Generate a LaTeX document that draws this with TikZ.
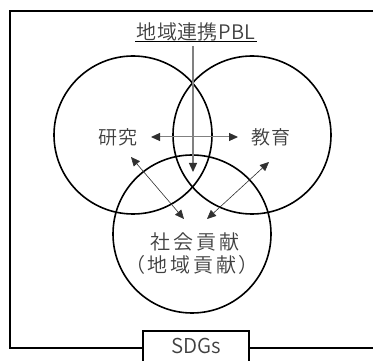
\documentclass[tikz,border=0pt]{standalone}
\usepackage{fontspec}
\setmainfont{Noto Sans CJK JP}[UprightFont=* DemiLight]
\usetikzlibrary{arrows.meta}
\definecolor{txt}{HTML}{404040}
\definecolor{shaft}{HTML}{808080}
\definecolor{head}{HTML}{303030}
\tikzset{
  ring/.style={circle, draw=black, line width=1.6pt, minimum size=158pt, inner sep=0pt},
  lbl/.style={text=txt, font=\fontsize{19}{22}\selectfont\addfontfeature{LetterSpace=5}, inner sep=1pt},
  biglbl/.style={text=txt, font=\fontsize{20}{22}\selectfont\addfontfeature{LetterSpace=14}, inner sep=1pt},
  tip/.style={-{Triangle[length=9pt,width=8pt,color=head]}},
  bitip/.style={{Triangle[length=9pt,width=8pt,color=head]}-{Triangle[length=9pt,width=8pt,color=head]}},
  frame/.style={draw=black, line width=1.6pt}
}
\begin{document}
\begin{tikzpicture}[x=1pt,y=-1pt]
\useasboundingbox (0,0) rectangle (373,361);
\draw[frame] (10,11) rectangle (380,348);
\node[frame, fill=white, minimum width=106pt, minimum height=40pt, anchor=north west, inner sep=0pt] (sdgbox) at (142,330) {};
\node[lbl, font=\fontsize{20.5}{22}\selectfont] (sdg) at (196,346) {SDGs};
\node[lbl, font=\fontsize{20}{22}\selectfont\addfontfeature{LetterSpace=2}] (pbl) at (196,32) {地域連携PBL};
\draw[black, line width=1.4pt] (pbl.south west) ++(0,-1) coordinate (ul1) -- (pbl.south east |- ul1) coordinate (ul2);
\node[ring] (L) at (133,135) {};
\node[ring] (R) at (252,135) {};
\node[ring] (B) at (192,234) {};
\node[lbl] (ken) at (118,137) {研究};
\node[lbl] (kyo) at (271,137) {教育};
\node[biglbl] (sha) at (195,242) {社会貢献};
\node[biglbl] (chi) at (192,265) {（地域貢献）};
\coordinate (vtop) at (193,46);
\coordinate (vbot) at (193,172);
\draw[tip, draw=shaft, line width=1.2pt] (vtop) -- (vbot);
\coordinate (h1) at (151,137);
\coordinate (h2) at (238,137);
\draw[bitip, draw=shaft, line width=1pt] (h1) -- (h2);
\coordinate (d1) at (131,157);
\coordinate (d2) at (184,219);
\draw[bitip, draw=head, line width=0.6pt] (d1) -- (d2);
\coordinate (d3) at (269,162);
\coordinate (d4) at (207,219);
\draw[bitip, draw=head, line width=0.6pt] (d3) -- (d4);
\end{tikzpicture}
\end{document}
